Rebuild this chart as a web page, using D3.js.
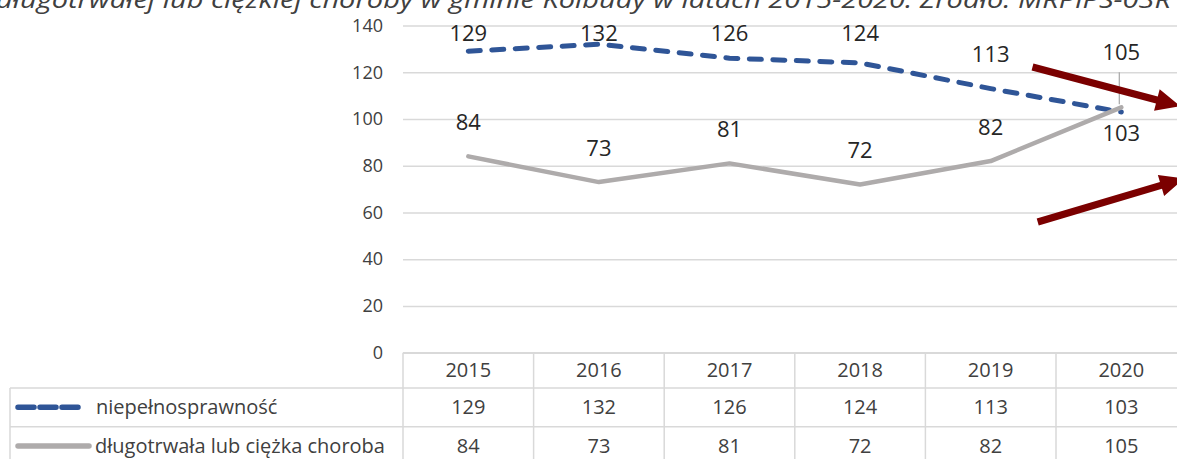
<!DOCTYPE html>
<html>
<head>
<meta charset="utf-8">
<script src="https://cdn.jsdelivr.net/npm/d3@7"></script>
<style>
  html, body { margin: 0; padding: 0; background: #ffffff; }
  svg { display: block; }
  text { font-family: "Open Sans", "DejaVu Sans", sans-serif; }
</style>
</head>
<body>
<svg id="chart" width="1177" height="459"></svg>
<script>
// ---- data ----
const years = ["2015", "2016", "2017", "2018", "2019", "2020"];
const disability = [129, 132, 126, 124, 113, 103];
const illness = [84, 73, 81, 72, 82, 105];
const yTicks = [0, 20, 40, 60, 80, 100, 120, 140];
const seriesNames = ["niepełnosprawność", "długotrwała lub ciężka choroba"];
const titleText = "długotrwałej lub ciężkiej choroby w gminie Kolbudy w latach 2015-2020. Źródło: MRPiPS-03R";
const disabilityLabelPlacement = ["above", "above", "above", "above", "above", "below"];
const illnessLabelPlacement = ["above", "above", "above", "above", "above", "leader"];

// ---- layout ----
const W = 1177, H = 459;
const plotLeft = 403, plotRight = 1186.6, plotTop = 25.5, plotBottom = 352.7;
const rowH = [35.3, 38.7, 38.7];
const tableLeft = 10;
const blue = "#2f5597", gray = "#aeabab", grid = "#d9d9d9", arrowColor = "#7b0000";
const textColor = "#404040", labelColor = "#262626";

const svg = d3.select("#chart");

const x = d3.scaleBand().domain(years).range([plotLeft, plotRight]).padding(0);
const xi = d3.scaleLinear().domain([0, years.length]).range([plotLeft, plotRight]);
const y = d3.scaleLinear().domain([0, 140]).range([plotBottom, plotTop]);
const cx = d => x(d) + x.bandwidth() / 2;

// title (cut at the top, as in the source image)
svg.append("text")
  .attr("x", -4).attr("y", 8)
  .attr("font-size", 24).attr("font-style", "italic")
  .attr("fill", textColor)
  .attr("textLength", 1175).attr("lengthAdjust", "spacingAndGlyphs")
  .text(titleText);

// gridlines + y labels
const yAxis = d3.axisLeft(y).tickValues(yTicks)
  .tickSize(-(plotRight - plotLeft)).tickPadding(20);
const gy = svg.append("g").attr("transform", `translate(${plotLeft},0)`).call(yAxis);
gy.select(".domain").remove();
gy.selectAll(".tick line").attr("stroke", grid).attr("stroke-width", 1.5);
gy.selectAll(".tick text").attr("font-size", 18).attr("fill", textColor)
  .attr("font-family", "'Open Sans', sans-serif");

// ---- table ----
const t0 = plotBottom, t1 = t0 + rowH[0], t2 = t1 + rowH[1], t3 = t2 + rowH[2];
const tbl = svg.append("g").attr("stroke", grid).attr("stroke-width", 1.5).attr("fill", "none");
tbl.append("line").attr("x1", plotLeft).attr("x2", plotRight).attr("y1", t0).attr("y2", t0);
[t1, t2, t3].forEach(yy => tbl.append("line").attr("x1", tableLeft).attr("x2", plotRight).attr("y1", yy).attr("y2", yy));
tbl.append("line").attr("x1", tableLeft).attr("x2", tableLeft).attr("y1", t1).attr("y2", t3);
d3.range(years.length + 1).forEach(i => {
  tbl.append("line").attr("x1", xi(i)).attr("x2", xi(i)).attr("y1", t0).attr("y2", t3);
});

const tt = svg.append("g").attr("font-size", 20).attr("fill", textColor).attr("text-anchor", "middle");
years.forEach((yr, i) => {
  tt.append("text").attr("x", cx(yr)).attr("y", (t0 + t1) / 2).attr("dy", "0.35em").text(yr);
  tt.append("text").attr("x", cx(yr)).attr("y", (t1 + t2) / 2).attr("dy", "0.35em").text(disability[i]);
  tt.append("text").attr("x", cx(yr)).attr("y", (t2 + t3) / 2).attr("dy", "0.35em").text(illness[i]);
});

// legend keys in the table
const dash = "12,11.5";
svg.append("line").attr("x1", 18).attr("x2", 80)
  .attr("y1", (t1 + t2) / 2).attr("y2", (t1 + t2) / 2)
  .attr("stroke", blue).attr("stroke-width", 5.5).attr("stroke-linecap", "round")
  .attr("stroke-dasharray", "16,6");
svg.append("text").attr("x", 96).attr("y", (t1 + t2) / 2).attr("dy", "0.35em")
  .attr("font-size", 20).attr("fill", textColor).text(seriesNames[0]);
svg.append("line").attr("x1", 18).attr("x2", 89)
  .attr("y1", (t2 + t3) / 2).attr("y2", (t2 + t3) / 2)
  .attr("stroke", gray).attr("stroke-width", 5.5).attr("stroke-linecap", "round");
svg.append("text").attr("x", 95).attr("y", (t2 + t3) / 2).attr("dy", "0.35em")
  .attr("font-size", 20).attr("fill", textColor).text(seriesNames[1]);

// ---- lines ----
const line = d3.line().x((d, i) => cx(years[i])).y(d => y(d));
svg.append("path").datum(disability).attr("d", line)
  .attr("fill", "none").attr("stroke", blue).attr("stroke-width", 5)
  .attr("stroke-linecap", "round").attr("stroke-linejoin", "round")
  .attr("stroke-dasharray", dash);
svg.append("path").datum(illness).attr("d", line)
  .attr("fill", "none").attr("stroke", gray).attr("stroke-width", 4.5)
  .attr("stroke-linecap", "round").attr("stroke-linejoin", "round");

// ---- data labels ----
const lbl = svg.append("g").attr("font-size", 22)
  .attr("fill", labelColor).attr("text-anchor", "middle");
disability.forEach((v, i) => {
  const p = disabilityLabelPlacement[i];
  const ly = p === "below" ? y(v) + 21 : Math.max(y(v) - 34, 33);
  lbl.append("text").attr("x", cx(years[i])).attr("y", ly).attr("dy", "0.35em").text(v);
});
illness.forEach((v, i) => {
  const p = illnessLabelPlacement[i];
  let ly = y(v) - 34;
  if (p === "leader") {
    ly = y(v) - 55;
    svg.append("line").attr("x1", cx(years[i]) - 2).attr("x2", cx(years[i]) - 2)
      .attr("y1", ly + 20).attr("y2", y(v) - 3)
      .attr("stroke", "#a6a6a6").attr("stroke-width", 1.2);
  }
  lbl.append("text").attr("x", cx(years[i])).attr("y", ly).attr("dy", "0.35em").text(v);
});

// ---- annotation arrows ----
function arrow(x1, y1, x2, y2) {
  const dx = x2 - x1, dy = y2 - y1, L = Math.hypot(dx, dy);
  const ux = dx / L, uy = dy / L, nx = -uy, ny = ux;
  const head = 24, hw = 11, sw = 3.6;
  const bx = x2 - ux * head, by = y2 - uy * head;
  const pts = [
    [x1 + nx * sw, y1 + ny * sw], [bx + nx * sw, by + ny * sw], [bx + nx * hw, by + ny * hw],
    [x2, y2], [bx - nx * hw, by - ny * hw], [bx - nx * sw, by - ny * sw], [x1 - nx * sw, y1 - ny * sw]
  ];
  svg.append("polygon").attr("points", pts.map(p => p.join(",")).join(" ")).attr("fill", arrowColor);
}
arrow(xi(4.82), y(122.2), xi(5.95), y(105.5));
arrow(xi(4.86), y(55.9), xi(5.98), y(74.5));
</script>
</body>
</html>
